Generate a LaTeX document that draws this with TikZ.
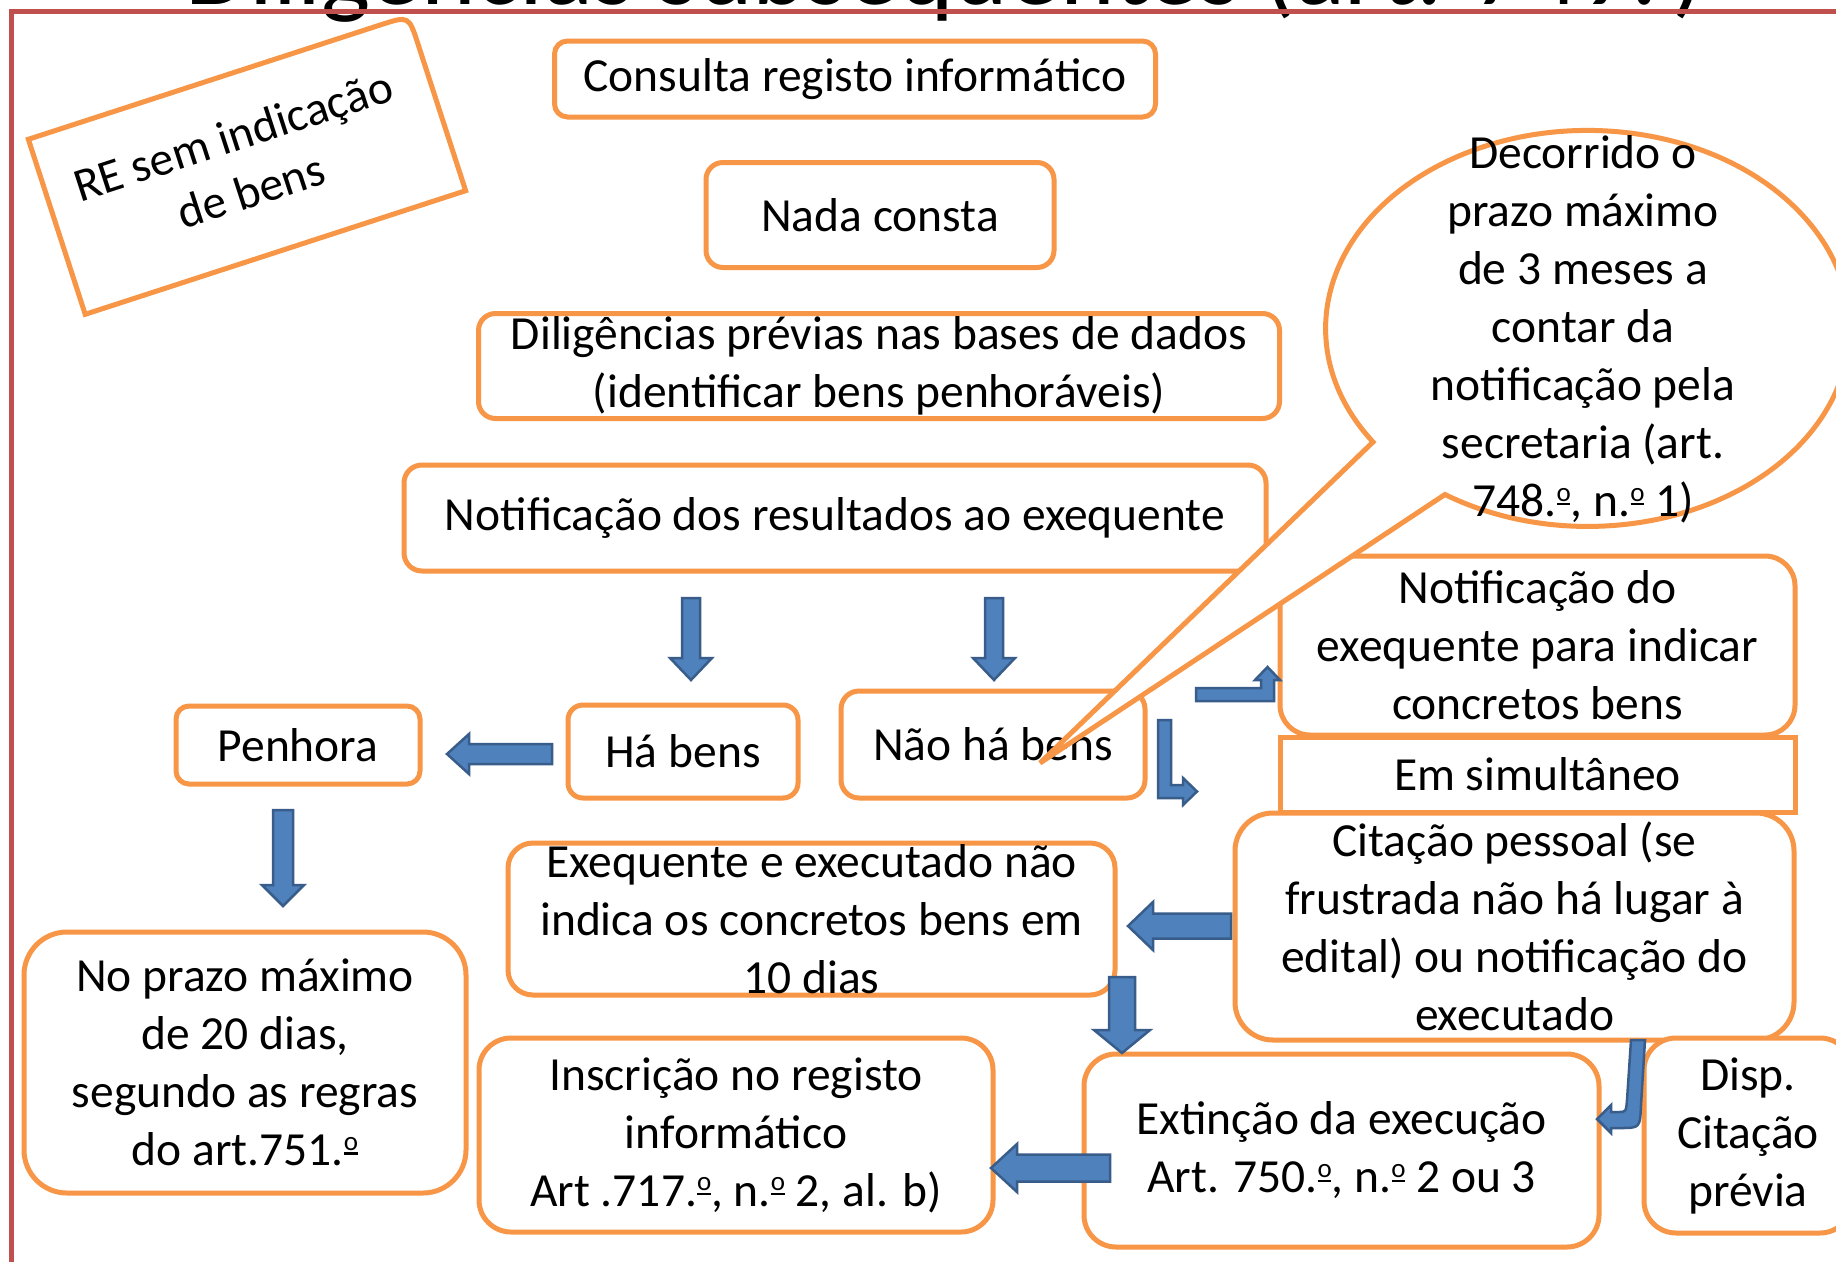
\documentclass[tikz,border=0pt]{standalone}
\usepackage{fontspec}
\setmainfont{Carlito}
\definecolor{boxorange}{HTML}{F79646}
\definecolor{framered}{HTML}{C0504D}
\definecolor{arrowfill}{HTML}{4F81BD}
\definecolor{arrowline}{HTML}{385D8A}
\newcommand{\ordm}{\raisebox{0.32em}{\fontsize{27}{27}\selectfont\ooalign{o\cr\hidewidth\rule[-0.16em]{0.5em}{0.09em}\hidewidth\cr}}}
\newcommand{\barrow}[6]{% tip coordinate, angle, length, shaft, head, head length
  \filldraw[barrowsty, shift={(#1)}, rotate=#2]
    (0,0) -- (-#6,#5/2) -- (-#6,#4/2) -- (-#3,#4/2) -- (-#3,-#4/2) -- (-#6,-#4/2) -- (-#6,-#5/2) -- cycle;}
\begin{document}
\begin{tikzpicture}[x=1pt,y=-1pt,
  box/.style={draw=boxorange, line width=5pt, fill=white, inner sep=0pt},
  txt/.style={font=\fontsize{47.5}{58}\selectfont, align=center, inner sep=0pt, text=black},
  titletxt/.style={font=\fontsize{104}{120}\selectfont, inner sep=0pt, text=black},
  barrowsty/.style={fill=arrowfill, draw=arrowline, line width=2.5pt},
  outline/.style={draw=boxorange, line width=5pt, fill=white},
]
\useasboundingbox (0,0) rectangle (1836,1261);
\fill[white] (0,0) rectangle (1836,1261);

% title (cut by the top edge)
\node[titletxt, anchor=base] (title) at (945,4) {Diligências subsequentes (art. 749.\ordm)};
% frame
\draw[framered, line width=5pt] (11,1280) -- (11,11.5) -- (1860,11.5);

% tilted start box
\begin{scope}[shift={(247,165)}, rotate=18]
  \draw[outline] (-200,92) -- (-200,-92) -- (170,-92) .. controls (200,-92) .. (200,-62) -- (200,92) -- cycle;
\end{scope}
\node[txt, rotate=18] (retxt) at (242,163) {RE sem indicação\\de bens};

% boxes
\node[box, rounded corners=13pt, minimum width=601pt, minimum height=76pt] (cons) at (855,79) {};
\node[txt] (const) at (cons.center) {Consulta registo informático};
\node[box, rounded corners=17pt, minimum width=348pt, minimum height=105pt] (nada) at (880,215) {};
\node[txt] (nadat) at (nada.center) {Nada consta};
\node[box, rounded corners=17pt, minimum width=801pt, minimum height=105pt] (dilig) at (879,366) {};
\node[txt] (diligt) at (dilig.center) {Diligências prévias nas bases de dados\\(identificar bens penhoráveis)};
\node[box, rounded corners=18pt, minimum width=862pt, minimum height=106pt] (notif) at (835,518) {};
\node[txt] (notift) at (notif.center) {Notificação dos resultados ao exequente};

\node[box, rounded corners=13pt, minimum width=244pt, minimum height=78pt] (penhora) at (298,745) {};
\node[txt] (penhorat) at (penhora.center) {Penhora};
\node[box, rounded corners=15pt, minimum width=230pt, minimum height=93pt] (habens) at (683,751.5) {};
\node[txt] (habenst) at (habens.center) {Há bens};
\node[box, rounded corners=18pt, minimum width=304pt, minimum height=107pt] (naohabens) at (993,744.5) {};
\node[txt] (naohabenst) at (naohabens.center) {Não há bens};

\node[box, rounded corners=30pt, minimum width=515pt, minimum height=179pt] (notexq) at (1537.5,645.5) {};
\node[box, minimum width=515pt, minimum height=75pt] (emsim) at (1537.5,774.5) {};
\node[txt] (emsimt) at (emsim.center) {Em simultâneo};
\node[box, rounded corners=38pt, minimum width=559pt, minimum height=227pt] (citacao) at (1514.5,926.5) {};
\node[txt] (citacaot) at (citacao.center) {Citação pessoal (se\\frustrada não há lugar à\\edital) ou notificação do\\executado};

\node[box, rounded corners=25pt, minimum width=607pt, minimum height=152pt] (exeq) at (811.5,919) {};
\node[txt] (exeqt) at (exeq.center) {Exequente e executado não\\indica os concretos bens em\\10 dias};
\node[box, rounded corners=32pt, minimum width=514pt, minimum height=194pt] (inscr) at (736,1135) {};
\node[txt] (inscrt) at (inscr.center) {Inscrição no registo\\informático\\Art .717.\ordm, n.\ordm\ 2, al. b)};
\node[box, rounded corners=32pt, minimum width=515pt, minimum height=193pt] (extin) at (1341.5,1150.5) {};
\node[txt] (extint) at (extin.center) {Extinção da execução\\Art. 750.\ordm, n.\ordm\ 2 ou 3};
\node[box, rounded corners=32pt, minimum width=208pt, minimum height=195pt] (disp) at (1748,1135.5) {};
\node[txt] (dispt) at (disp.center) {Disp.\\Citação\\prévia};
\node[box, rounded corners=43pt, minimum width=442pt, minimum height=261pt] (noprazo) at (245,1062.5) {};
\node[txt] (noprazot) at (noprazo.center) {No prazo máximo\\de 20 dias,\\segundo as regras\\do art.751.\ordm};

% callout
\draw[outline] (1373,442) arc[start angle=145, end angle=483, x radius=262, y radius=198] -- (1040,763) -- cycle;
\node[txt] (callt) at (1583,329) {Decorrido o\\prazo máximo\\de 3 meses a\\contar da\\notificação pela\\secretaria (art.\\748.\ordm, n.\ordm\ 1)};
\node[txt] (notexqt) at (notexq.center) {Notificação do\\exequente para indicar\\concretos bens};

% block arrows
\coordinate (t1) at (691,680);
\barrow{t1}{-90}{82}{18}{42}{22}
\coordinate (t2) at (994,680);
\barrow{t2}{-90}{82}{18}{42}{22}
\coordinate (t3) at (447,754);
\barrow{t3}{180}{105}{20}{40}{22}
\coordinate (t4) at (283,906);
\barrow{t4}{-90}{96}{20}{42}{21}
\coordinate (t5) at (1128,926);
\barrow{t5}{180}{103}{25}{48}{25}
\coordinate (t6) at (1122,1053);
\barrow{t6}{-90}{76}{26}{56}{23}
\coordinate (t7) at (991,1168);
\barrow{t7}{180}{119}{27}{48}{26}

% bent arrows
\filldraw[barrowsty] (1196,688) -- (1261,688) -- (1261,680) -- (1255,680) -- (1267.5,667) -- (1280,680) -- (1274,680) -- (1274,701) -- (1196,701) -- cycle;
\filldraw[barrowsty] (1158,720) -- (1171,720) -- (1171,785) -- (1183,785) -- (1183,778) -- (1197,791.5) -- (1183,805) -- (1183,798) -- (1158,798) -- cycle;
% curved arrow
\filldraw[barrowsty] (1645,1040) -- (1641,1105) .. controls (1640,1128) .. (1620,1128) -- (1611,1128) -- (1611,1133) -- (1597,1119) -- (1611,1105) -- (1611,1112) -- (1618,1112) .. controls (1626,1112) .. (1627,1100) -- (1631,1040) -- cycle;
\end{tikzpicture}
\end{document}
